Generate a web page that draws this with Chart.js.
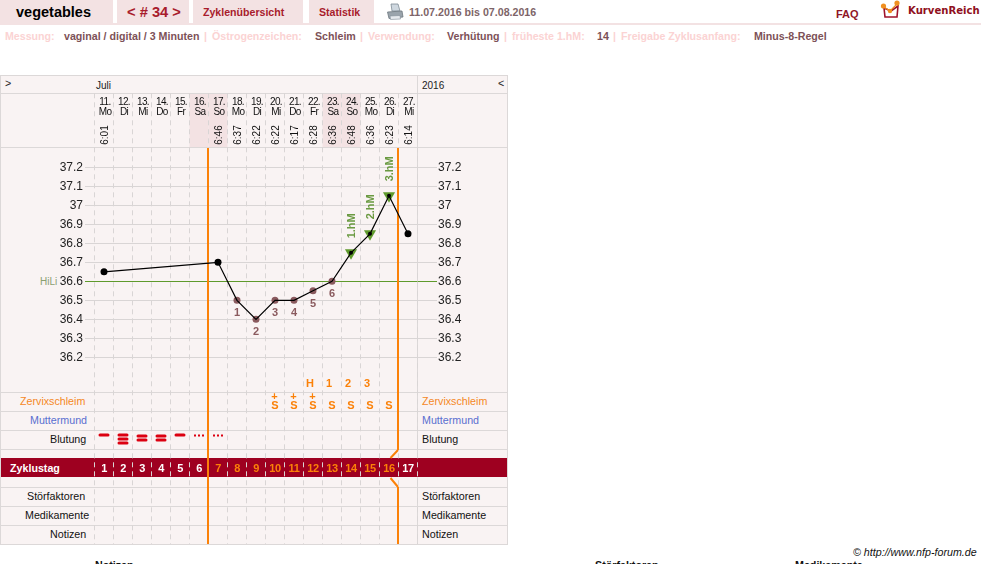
<!DOCTYPE html>
<html>
<head>
<meta charset="utf-8">
<style>
  html, body { margin: 0; padding: 0; background: #fff; overflow: hidden; }
  body { width: 981px; height: 564px; position: relative; font-family: "Liberation Sans", Arial, sans-serif; }
  .abs { position: absolute; white-space: nowrap; }
  .tab { position: absolute; top: 0; height: 23px; background: #f3e2e3; }
  .hline { position: absolute; height: 1px; background: #dcd8d8; }
  .vline { position: absolute; width: 1px; background: #dcd8d8; }
  .meta { position: absolute; top: 30px; font-size: 10.65px; line-height: 13px; font-weight: bold; white-space: nowrap; }
  .k { color: #fbd3d3; }
  .v { color: #7d5157; }
  .row { position: absolute; font-size: 10.7px; line-height: 13px; white-space: nowrap; }
  #chart { position: absolute; left: 0; top: 0; }
</style>
</head>
<body>
  <div class="tab" style="left:0;width:113px"></div>
  <div class="tab" style="left:117px;width:72px"></div>
  <div class="tab" style="left:193px;width:110px"></div>
  <div class="tab" style="left:309px;width:65px"></div>
  <div class="abs" style="left:0;top:23px;width:981px;height:2px;background:#f3e2e3"></div>

  <div class="abs" style="left:16px;top:4px;font-size:14.5px;line-height:17px;font-weight:bold;color:#000">vegetables</div>
  <div class="abs" style="left:127px;top:3px;font-size:14.7px;line-height:19px;font-weight:bold;color:#a81c2c">&lt; # 34 &gt;</div>
  <div class="abs" style="left:203px;top:6px;font-size:10.6px;line-height:13px;font-weight:bold;color:#a81c2c">Zyklenübersicht</div>
  <div class="abs" style="left:319px;top:6px;font-size:10.6px;line-height:13px;font-weight:bold;color:#a81c2c">Statistik</div>
  <svg class="abs" style="left:386px;top:3px" width="18" height="18" viewBox="0 0 18 18">
    <path d="M5 1 L12 1 L14 8 L6 8 Z" fill="#cfd8e0" stroke="#7f8c96" stroke-width="0.8"/>
    <path d="M1.5 9 L16 8 L17 14 L3 15.5 Z" fill="#9aa4ac" stroke="#6d777f" stroke-width="0.8"/>
    <path d="M4 13 L14 12.5 L14.5 16 L4.5 16.5 Z" fill="#e6eaee" stroke="#7f8c96" stroke-width="0.6"/>
  </svg>
  <div class="abs" style="left:409px;top:6px;font-size:10.65px;line-height:13px;font-weight:bold;color:#7d6468">11.07.2016 bis 07.08.2016</div>
  <div class="abs" style="left:836px;top:8px;font-size:11px;line-height:13px;font-weight:bold;color:#8f1626">FAQ</div>
  <svg class="abs" style="left:880px;top:0" width="24" height="20" viewBox="0 0 24 20">
    <path d="M4 8 L5 17 L17 17 L18 6 L11 11 Z" fill="none" stroke="#a0122a" stroke-width="1.6"/>
    <path d="M4 7 L10 11 L17 4" fill="none" stroke="#e89020" stroke-width="1.2"/>
    <circle cx="3.5" cy="6" r="2.6" fill="#f09020"/><circle cx="10" cy="11" r="2.2" fill="#f09020"/><circle cx="17" cy="3" r="2.6" fill="#f09020"/>
  </svg>
  <div class="abs" style="left:908px;top:4px;font-family:'DejaVu Sans',sans-serif;font-size:10.1px;line-height:13px;font-weight:bold;color:#8f0f20">KurvenReich</div>

  <div class="meta k" style="left:5px">Messung:</div>
  <div class="meta v" style="left:64px">vaginal / digital / 3 Minuten</div>
  <div class="meta k" style="left:204px">|</div>
  <div class="meta k" style="left:212px">Östrogenzeichen:</div>
  <div class="meta v" style="left:315px">Schleim</div>
  <div class="meta k" style="left:360px">|</div>
  <div class="meta k" style="left:368px">Verwendung:</div>
  <div class="meta v" style="left:447px">Verhütung</div>
  <div class="meta k" style="left:504px">|</div>
  <div class="meta k" style="left:512px">früheste 1.hM:</div>
  <div class="meta v" style="left:597px">14</div>
  <div class="meta k" style="left:613px">|</div>
  <div class="meta k" style="left:621px">Freigabe Zyklusanfang:</div>
  <div class="meta v" style="left:754px">Minus-8-Regel</div>

  <!-- panel behind the canvas -->
  <div class="abs" style="left:0;top:75px;width:507px;height:469px;background:#f9f3f3"></div>
  <div class="hline" style="left:0;top:75px;width:508px"></div>
  <div class="hline" style="left:0;top:93px;width:508px"></div>
  <div class="hline" style="left:0;top:147px;width:508px"></div>
  <div class="hline" style="left:0;top:392px;width:508px"></div>
  <div class="hline" style="left:0;top:411px;width:508px"></div>
  <div class="hline" style="left:0;top:430px;width:508px"></div>
  <div class="hline" style="left:0;top:449px;width:508px"></div>
  <div class="hline" style="left:0;top:487px;width:508px"></div>
  <div class="hline" style="left:0;top:506px;width:508px"></div>
  <div class="hline" style="left:0;top:525px;width:508px"></div>
  <div class="hline" style="left:0;top:544px;width:508px"></div>
  <div class="vline" style="left:0;top:75px;height:470px"></div>
  <div class="vline" style="left:417px;top:75px;height:470px"></div>
  <div class="vline" style="left:507px;top:75px;height:470px"></div>
  <div class="abs" style="left:1px;top:458px;width:506px;height:19px;background:#9e0020"></div>

  <div class="row" style="left:5px;top:77px;color:#222">&gt;</div>
  <div class="row" style="left:96px;top:79px;font-size:10px;color:#222">Juli</div>
  <div class="row" style="left:422px;top:79px;font-size:10px;color:#222">2016</div>
  <div class="row" style="left:498px;top:77px;color:#222">&lt;</div>
  <div class="row" style="left:40px;top:275px;font-size:10px;color:#8aa070">HiLi</div>

  <div class="row" style="left:20px;top:395px;color:#f5881f">Zervixschleim</div>
  <div class="row" style="left:30px;top:414px;color:#5a6fd0">Muttermund</div>
  <div class="row" style="left:50px;top:433px;color:#111">Blutung</div>
  <div class="row" style="left:10px;top:462px;font-weight:bold;color:#fff">Zyklustag</div>
  <div class="row" style="left:27px;top:490px;color:#111">Störfaktoren</div>
  <div class="row" style="left:25px;top:509px;color:#111">Medikamente</div>
  <div class="row" style="left:50px;top:528px;color:#111">Notizen</div>
  <div class="row" style="left:422px;top:395px;color:#f5881f">Zervixschleim</div>
  <div class="row" style="left:422px;top:414px;color:#5a6fd0">Muttermund</div>
  <div class="row" style="left:422px;top:433px;color:#111">Blutung</div>
  <div class="row" style="left:422px;top:490px;color:#111">Störfaktoren</div>
  <div class="row" style="left:422px;top:509px;color:#111">Medikamente</div>
  <div class="row" style="left:422px;top:528px;color:#111">Notizen</div>

  <div class="row" style="left:853px;top:546px;font-style:italic;color:#111">© http://www.nfp-forum.de</div>
  <div class="row" style="left:95px;top:559px;font-weight:bold;color:#111">Notizen</div>
  <div class="row" style="left:595px;top:559px;font-weight:bold;color:#111">Störfaktoren</div>
  <div class="row" style="left:795px;top:559px;font-weight:bold;color:#111">Medikamente</div>

  <canvas id="chart" width="981" height="564"></canvas>

<script src="https://cdn.jsdelivr.net/npm/chart.js@4/dist/chart.umd.min.js"></script>
<script>
const days = [1, 2, 3, 4, 5, 6, 7, 8, 9, 10, 11, 12, 13, 14, 15, 16, 17];
const dates = ["11.", "12.", "13.", "14.", "15.", "16.", "17.", "18.", "19.", "20.", "21.", "22.", "23.", "24.", "25.", "26.", "27."];
const weekdays = ["Mo", "Di", "Mi", "Do", "Fr", "Sa", "So", "Mo", "Di", "Mi", "Do", "Fr", "Sa", "So", "Mo", "Di", "Mi"];
const times = ["6:01", "", "", "", "", "", "6:46", "6:37", "6:22", "6:22", "6:17", "6:28", "6:36", "6:48", "6:36", "6:23", "6:14"];
const temps = [36.65, null, null, null, null, null, 36.7, 36.5, 36.4, 36.5, 36.5, 36.55, 36.6, 36.75, 36.85, 37.05, 36.85];
const lowLabels = ["", "", "", "", "", "", "", "1", "2", "3", "4", "5", "6", "", "", "", ""];
const highLabels = ["", "", "", "", "", "", "", "", "", "", "", "", "", "1.hM", "2.hM", "3.hM", ""];
const peakLabels = ["", "", "", "", "", "", "", "", "", "", "", "H", "1", "2", "3", "", ""];
const mucus = ["", "", "", "", "", "", "", "", "", "S+", "S+", "S+", "S", "S", "S", "S", ""];
const bleeding = [1, 3, 2, 2, 1, 0.5, 0.5, 0, 0, 0, 0, 0, 0, 0, 0, 0, 0];
const tempTicks = [37.2, 37.1, 37, 36.9, 36.8, 36.7, 36.6, 36.5, 36.4, 36.3, 36.2];
const coverLine = 36.6;
const phaseBounds = [6.5, 16.5];

const gridGrey = "#d9d5d5";
const brown = "#8a5a5e";
const green = "#5f9a2c";
const orange = "#fb8108";

// 0.1 degree is 19px, chart area runs over the whole table height
const yMin = 36.2 - (544.3 - 357.3) / 190;
const yMax = 37.2 + (357.3 - 93.3 - 190) / 190;

const tableMarks = {
  id: "tableMarks",
  beforeDraw(chart) {
    const { ctx, scales: { x } } = chart;
    ctx.save();
    ctx.fillStyle = "#f3e2e3";
    days.forEach((d, i) => {
      if (weekdays[i] === "Sa" || weekdays[i] === "So") {
        ctx.fillRect(x.getPixelForValue(d - 0.5), 94, x.getPixelForValue(d + 0.5) - x.getPixelForValue(d - 0.5), 53);
      }
    });
    ctx.restore();
  },
  beforeDatasetsDraw(chart) {
    const { ctx, scales: { x } } = chart;
    // whole pixel so the 2px line stays crisp
    const left = Math.floor(x.getPixelForValue(phaseBounds[0]));
    const right = Math.floor(x.getPixelForValue(phaseBounds[1]));
    ctx.save();
    ctx.strokeStyle = orange;
    ctx.lineWidth = 2;
    ctx.beginPath();
    ctx.moveTo(left, 148);
    ctx.lineTo(left, 544);
    ctx.moveTo(right, 148);
    ctx.lineTo(right, 450);
    ctx.moveTo(right, 450);
    ctx.lineTo(right - 7.5, 458);
    ctx.moveTo(right - 7.5, 478);
    ctx.lineTo(right, 487);
    ctx.moveTo(right, 487);
    ctx.lineTo(right, 544);
    ctx.stroke();
    ctx.restore();
  },
  afterDatasetsDraw(chart) {
    const { ctx, scales: { x, y } } = chart;
    ctx.save();
    ctx.textAlign = "center";
    ctx.textBaseline = "alphabetic";
    days.forEach((d, i) => {
      const px = x.getPixelForValue(d);

      // date header
      ctx.fillStyle = "#111";
      ctx.font = '10px "Liberation Sans"';
      ctx.letterSpacing = "-0.6px";
      ctx.fillText(dates[i], px + 1, 105);
      ctx.fillText(weekdays[i], px + 1, 115);
      ctx.letterSpacing = "0px";
      if (times[i]) {
        ctx.save();
        ctx.translate(px + 4, 135);
        ctx.rotate(-Math.PI / 2);
        ctx.fillText(times[i], 0, 0);
        ctx.restore();
      }

      ctx.font = 'bold 11px "Liberation Sans"';
      if (lowLabels[i]) {
        ctx.fillStyle = brown;
        ctx.fillText(lowLabels[i], px, y.getPixelForValue(temps[i]) + 16);
      }
      if (highLabels[i]) {
        ctx.save();
        ctx.fillStyle = "#6b9a42";
        ctx.translate(px + 4, y.getPixelForValue(temps[i]) - 27);
        ctx.rotate(-Math.PI / 2);
        ctx.fillText(highLabels[i], 0, 0);
        ctx.restore();
      }

      // mucus rows
      ctx.fillStyle = orange;
      if (peakLabels[i]) ctx.fillText(peakLabels[i], px - 3, 387);
      if (mucus[i]) {
        ctx.fillText("S", px, 409);
        if (mucus[i] === "S+") ctx.fillText("+", px - 0.5, 400);
      }

      // bleeding
      ctx.fillStyle = "#dc0010";
      if (bleeding[i] >= 1) {
        const first = bleeding[i] === 2 ? 436 : 435;
        for (let n = 0; n < bleeding[i]; n++) {
          ctx.beginPath();
          ctx.roundRect(px - 5.5, first + n * 4 - 1.5, 11, 3, 1.5);
          ctx.fill();
        }
      } else if (bleeding[i] > 0) {
        [-4, 0, 4].forEach((o) => ctx.fillRect(px + o - 1, 434.5, 2, 2));
      }

      // cycle day numbers
      ctx.fillStyle = d > phaseBounds[0] && d < phaseBounds[1] ? orange : "#fff";
      ctx.font = 'bold 11px "Liberation Sans"';
      ctx.letterSpacing = "-0.4px";
      ctx.fillText(String(d), px, 472);
      ctx.letterSpacing = "0px";
    });
    ctx.restore();
  },
};

const axisTicks = (axis) => { axis.ticks = tempTicks.map((v) => ({ value: v })); };
const gridColor = (c) => (c.tick && c.tick.value === coverLine ? green : gridGrey);

new Chart(document.getElementById("chart"), {
  type: "scatter",
  data: {
    datasets: [
      {
        // temperature curve with the black dots on top
        data: days.map((d, i) => ({ x: d, y: temps[i] })),
        showLine: true,
        spanGaps: true,
        tension: 0,
        borderColor: "#000",
        borderWidth: 1.2,
        pointBackgroundColor: "#000",
        pointBorderWidth: 0,
        pointRadius: days.map((d, i) => (lowLabels[i] ? 0 : highLabels[i] ? 2 : 3.5)),
        order: 1,
      },
      {
        data: days.map((d, i) => ({ x: d, y: lowLabels[i] ? temps[i] : null })),
        showLine: false,
        pointBackgroundColor: brown,
        pointBorderWidth: 0,
        pointRadius: 3.5,
        order: 2,
      },
      {
        data: days.map((d, i) => ({ x: d, y: highLabels[i] ? temps[i] : null })),
        showLine: false,
        pointStyle: "triangle",
        rotation: 180,
        pointBackgroundColor: green,
        pointBorderWidth: 0,
        pointRadius: 7,
        order: 3,
      },
    ],
  },
  options: {
    responsive: false,
    animation: false,
    events: [],
    layout: { padding: { left: 0, right: 463.5, top: 93.3, bottom: 19.7 } },
    plugins: { legend: { display: false }, title: { display: false }, tooltip: { enabled: false } },
    scales: {
      x: {
        type: "linear",
        min: 0.5,
        max: 17.5,
        afterBuildTicks: (axis) => { axis.ticks = days.map((d) => ({ value: d - 0.5 })).concat({ value: 17.5 }); },
        afterFit: (axis) => { axis.height = 0; },
        ticks: { display: false },
        border: { display: false, dash: [5, 4] },
        grid: { color: gridGrey, drawTicks: false },
      },
      y: {
        position: "left",
        min: yMin,
        max: yMax,
        afterBuildTicks: axisTicks,
        afterFit: (axis) => { axis.width = 94.5; },
        border: { display: false },
        grid: { color: gridColor, tickColor: gridColor, tickLength: 9.5 },
        ticks: { padding: 2, color: "#222", font: { family: "Liberation Sans", size: 12 }, autoSkip: false, callback: (v) => String(v) },
      },
      y2: {
        position: "right",
        min: yMin,
        max: yMax,
        afterBuildTicks: axisTicks,
        afterFit: (axis) => { axis.width = 100; },
        border: { display: false },
        grid: { drawOnChartArea: false, color: gridColor, tickColor: gridColor, tickLength: 19.5 },
        ticks: { padding: 1, color: "#222", font: { family: "Liberation Sans", size: 12 }, autoSkip: false, callback: (v) => String(v) },
      },
    },
  },
  plugins: [tableMarks],
});
</script>
</body>
</html>
